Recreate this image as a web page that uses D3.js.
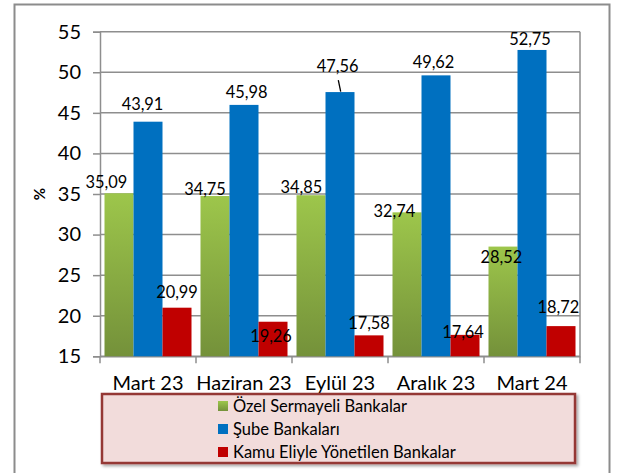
<!DOCTYPE html>
<html>
<head>
<meta charset="utf-8">
<script src="https://cdn.jsdelivr.net/npm/d3@7"></script>
<style>
  html, body { margin: 0; padding: 0; background: #ffffff; }
  svg { display: block; }
  text { font-family: Lato, "Open Sans", sans-serif; fill: #000; }
</style>
</head>
<body>
<svg id="chart" width="617" height="473"></svg>
<script>
// ---- data ----
const categories = ["Mart 23", "Haziran 23", "Eylül 23", "Aralık 23", "Mart 24"];
const seriesNames = ["Özel Sermayeli Bankalar", "Şube Bankaları", "Kamu Eliyle Yönetilen Bankalar"];
const ozelValues = [35.09, 34.75, 34.85, 32.74, 28.52];
const subeValues = [43.91, 45.98, 47.56, 49.62, 52.75];
const kamuValues = [20.99, 19.26, 17.58, 17.64, 18.72];
const yTicks = [15, 20, 25, 30, 35, 40, 45, 50, 55];
const yAxisTitle = "%";

// ---- layout / style (not data) ----
const plot = { left: 100, right: 580, top: 31.7, bottom: 356.3 };
const colors = ["url(#gradGreen)", "#0070c0", "#c00000"];
const legendSwatch = ["#8db043", "#0070c0", "#c00000"];
// manual label nudges (dx, dy) relative to bar-top centre, as in the source chart
const labelNudge = [
  [[-12.7, -5.3], [-10, -1], [-9.7, -2.6], [-12.7, 4.4], [-1.7, 16.7]],
  [[-5.5, -11.7], [2.7, -6.7], [-2.3, -20.4], [-2.5, -7], [-2, -5]],
  [[0, -9.4], [-2, 20], [0, -6], [-2, 3.4], [-2.6, -13]]
];

const allValues = [ozelValues, subeValues, kamuValues];
const svg = d3.select("#chart");

const defs = svg.append("defs");
const g1 = defs.append("linearGradient").attr("id", "gradGreen")
  .attr("x1", 0).attr("y1", 0).attr("x2", 0).attr("y2", 1);
g1.append("stop").attr("offset", "0%").attr("stop-color", "#9dc64b");
g1.append("stop").attr("offset", "100%").attr("stop-color", "#74913a");
const sh = defs.append("filter").attr("id", "shadow").attr("x", "-10%").attr("y", "-10%").attr("width", "130%").attr("height", "130%");
sh.append("feDropShadow").attr("dx", 2).attr("dy", 2).attr("stdDeviation", 1.5).attr("flood-color", "#000").attr("flood-opacity", 0.35);

// outer chart frame
svg.append("rect").attr("x", 14.5).attr("y", 4.5).attr("width", 595).attr("height", 480)
  .attr("fill", "#fff").attr("stroke", "#8c8c8c").attr("stroke-width", 2);

const x0 = d3.scaleBand().domain(categories).range([plot.left, plot.right]).padding(0);
const x1 = d3.scaleBand().domain(d3.range(seriesNames.length)).range([4.5, x0.bandwidth() - 4.5]).padding(0);
const y = d3.scaleLinear().domain([15, 55]).range([plot.bottom, plot.top]);

// gridlines
svg.append("g").selectAll("line").data(yTicks).join("line")
  .attr("x1", plot.left).attr("x2", plot.right)
  .attr("y1", d => y(d)).attr("y2", d => y(d))
  .attr("stroke", "#8e8e8e").attr("stroke-width", 1.5);
// plot border (right)
svg.append("line").attr("x1", plot.right).attr("x2", plot.right)
  .attr("y1", plot.top).attr("y2", plot.bottom).attr("stroke", "#8e8e8e").attr("stroke-width", 1.5);

// y axis
const yAxis = svg.append("g").attr("transform", `translate(${plot.left},0)`)
  .call(d3.axisLeft(y).tickValues(yTicks).tickSize(7).tickPadding(12).tickFormat(d3.format("d")));
yAxis.select(".domain").attr("stroke", "#8e8e8e").attr("stroke-width", 1.5);
yAxis.selectAll(".tick line").attr("stroke", "#8e8e8e").attr("stroke-width", 1.5);
yAxis.selectAll(".tick text").attr("font-size", 20).attr("font-family", "Lato").attr("fill", "#000");

// x axis
const xAxis = svg.append("g").attr("transform", `translate(0,${plot.bottom})`)
  .call(d3.axisBottom(x0).tickSize(0).tickPadding(19.5));
xAxis.select(".domain").attr("stroke", "#8e8e8e").attr("stroke-width", 1.5);
xAxis.selectAll(".tick text").attr("font-size", 20).attr("font-family", "Lato").attr("fill", "#000");
// category boundary ticks
const bounds = categories.map(c => x0(c)).concat([plot.right]);
svg.append("g").selectAll("line").data(bounds).join("line")
  .attr("x1", d => d).attr("x2", d => d)
  .attr("y1", plot.bottom).attr("y2", plot.bottom + 7)
  .attr("stroke", "#8e8e8e").attr("stroke-width", 1.5);

// y-axis title
svg.append("text").attr("transform", "translate(45,194) rotate(-90)")
  .attr("text-anchor", "middle").attr("font-size", 15).attr("font-weight", "bold").text(yAxisTitle);

// bars
const barData = [];
allValues.forEach((vals, s) => vals.forEach((v, i) => barData.push({ s, i, v, cat: categories[i] })));
svg.append("g").selectAll("rect").data(barData).join("rect")
  .attr("x", d => x0(d.cat) + x1(d.s))
  .attr("y", d => y(d.v))
  .attr("width", x1.bandwidth())
  .attr("height", d => y(15) - y(d.v))
  .attr("fill", d => colors[d.s]);

// leader line for 47,56
const lead = barData.find(d => d.s === 1 && d.i === 2);
const lx = x0(lead.cat) + x1(1) + x1.bandwidth() / 2;
svg.append("line")
  .attr("x1", lx - 1.7).attr("y1", y(lead.v) - 12)
  .attr("x2", lx + 0.7).attr("y2", y(lead.v) - 0.4)
  .attr("stroke", "#000").attr("stroke-width", 1.3);

// value labels
const fmt = v => v.toFixed(2).replace(".", ",");
svg.append("g").selectAll("text").data(barData).join("text")
  .attr("x", d => x0(d.cat) + x1(d.s) + x1.bandwidth() / 2 + labelNudge[d.s][d.i][0])
  .attr("y", d => y(d.v) + labelNudge[d.s][d.i][1])
  .attr("text-anchor", "middle").attr("font-size", 16.4)
  .text(d => fmt(d.v));

// legend
const lg = svg.append("g");
lg.append("rect").attr("x", 102).attr("y", 394).attr("width", 473).attr("height", 69)
  .attr("fill", "#f2dcdb").attr("stroke", "#953735").attr("stroke-width", 2.5).attr("filter", "url(#shadow)");
const rowY = [406, 429, 452];
const items = lg.selectAll("g.item").data(seriesNames).join("g").attr("class", "item")
  .attr("transform", (d, i) => `translate(218,${rowY[i]})`);
items.append("rect").attr("x", 0).attr("y", -5).attr("width", 10).attr("height", 10)
  .attr("fill", (d, i) => i === 0 ? "url(#gradGreen)" : legendSwatch[i]);
items.append("text").attr("x", 15).attr("y", 0).attr("dy", "0.35em")
  .attr("font-size", 16.5).text(d => d);
</script>
</body>
</html>
